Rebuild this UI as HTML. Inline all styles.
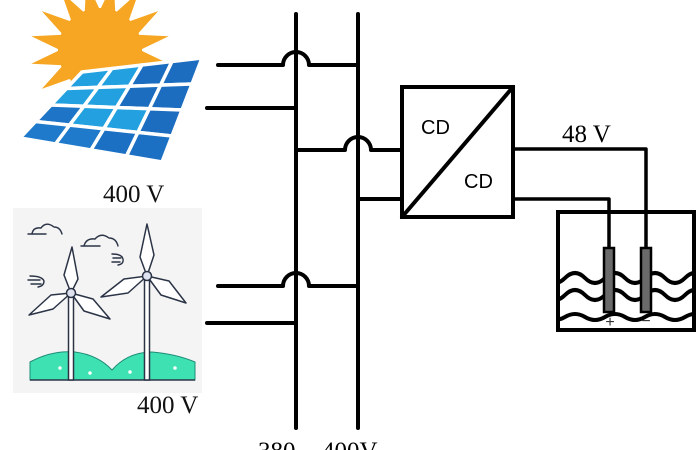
<!DOCTYPE html>
<html><head><meta charset="utf-8"><style>
html,body{margin:0;padding:0;background:#fff;}
body{width:696px;height:450px;overflow:hidden;}
svg{display:block;}
</style></head><body>
<svg width="696" height="450" viewBox="0 0 696 450" xmlns="http://www.w3.org/2000/svg">
<defs>
<clipPath id="tank"><rect x="558" y="212" width="136" height="118"/></clipPath>
</defs>
<!-- Sun -->
<polygon fill="#f6a623" points="140,50 168.7,63.7 137,65.3 158.2,88.9 128.3,78.3 138.9,108.2 115.3,87 113.7,118.7 100,90 86.3,118.7 84.7,87 61.1,108.2 71.7,78.3 41.8,88.9 63,65.3 31.3,63.7 60,50 31.3,36.3 63,34.7 41.8,11.1 71.7,21.7 61.1,-8.2 84.7,13 86.3,-18.7 100,10 113.7,-18.7 115.3,13 138.9,-8.2 128.3,21.7 158.2,11.1 137,34.7 168.7,36.3"/>
<circle cx="100" cy="50" r="42" fill="#f6a623"/>
<!-- Solar panel -->
<g stroke="#fff" stroke-width="3.5" stroke-linejoin="round">
<polygon fill="#22a0e0" points="82,72 112,68.5 97.9,87.4 66.5,88.5"/>
<polygon fill="#22a0e0" points="112,68.5 142,65 129.3,86.3 97.9,87.4"/>
<polygon fill="#1c6cc0" points="142,65 172,61.5 160.6,85.1 129.3,86.3"/>
<polygon fill="#1c6cc0" points="172,61.5 202,58 192,84 160.6,85.1"/>
<polygon fill="#22a0e0" points="66.5,88.5 97.9,87.4 83.8,106.3 51,105"/>
<polygon fill="#22a0e0" points="97.9,87.4 129.3,86.3 116.5,107.5 83.8,106.3"/>
<polygon fill="#1c6cc0" points="129.3,86.3 160.6,85.1 149.3,108.8 116.5,107.5"/>
<polygon fill="#1c6cc0" points="160.6,85.1 192,84 182,110 149.3,108.8"/>
<polygon fill="#1e74c6" points="51,105 83.8,106.3 69.6,125.1 35.5,121.5"/>
<polygon fill="#22a0e0" points="83.8,106.3 116.5,107.5 103.8,128.8 69.6,125.1"/>
<polygon fill="#22a0e0" points="116.5,107.5 149.3,108.8 137.9,132.4 103.8,128.8"/>
<polygon fill="#1c6cc0" points="149.3,108.8 182,110 172,136 137.9,132.4"/>
<polygon fill="#1f7acb" points="35.5,121.5 69.6,125.1 55.5,144 20,138"/>
<polygon fill="#1f7acb" points="69.6,125.1 103.8,128.8 91,150 55.5,144"/>
<polygon fill="#1c70c4" points="103.8,128.8 137.9,132.4 126.5,156 91,150"/>
<polygon fill="#1c70c4" points="137.9,132.4 172,136 162,162 126.5,156"/>
</g>
<text x="103" y="202" font-family="Liberation Serif, serif" font-size="25" fill="#111">400 V</text>

<!-- Wind picture -->
<rect x="13" y="208" width="189" height="185" fill="#f4f4f4"/>
<path d="M30,362 Q52,350 75,352 Q98,355 112,370 Q128,352 152,352 Q176,354 195,362 L195,380 L30,380 Z" fill="#3ee2b2" stroke="#1e8c78" stroke-width="1"/>
<line x1="30" y1="380" x2="195" y2="380" stroke="#2b3446" stroke-width="1.5"/>
<g fill="#fff" stroke="#fff" stroke-width="1.5"><circle cx="60" cy="368" r="1"/><circle cx="90" cy="373" r="1"/><circle cx="130" cy="372" r="1"/><circle cx="175" cy="368" r="1"/></g>
<g fill="none" stroke="#2b3446" stroke-width="1.4" stroke-linecap="round">
<path d="M32,234 Q33,227 41,228 Q46,221 54,227 Q60,227 62,234"/>
<path d="M28,234 H46"/>
<path d="M84,246 Q86,238 95,239 Q101,232 109,238 Q116,238 118,246"/>
<path d="M81,246 H100"/>
<path d="M112,254 Q122,254 123,259 Q124,264 118,265"/>
<path d="M113,258 H121 M112,262 H120"/>
<path d="M30,276 Q42,276 44,281 Q44,286 38,287"/>
<path d="M28,280 H40 M31,284 H41"/>
</g>
<g fill="#fff" stroke="#2b3446" stroke-width="1.5" stroke-linejoin="round">
<rect x="68.5" y="293" width="5" height="87"/>
<rect x="144.5" y="276" width="5" height="104"/>
<polygon points="71,293 64,275 72,247 78,279"/>
<polygon points="71,293 51,295 29,315 53,309"/>
<polygon points="71,293 93,299 110,319 84,311"/>
<polygon points="147,276 140,257 147,224 154,255"/>
<polygon points="147,276 124,279 101,297 128,293"/>
<polygon points="147,276 169,281 186,303 161,295"/>
<circle cx="71" cy="293" r="4.5" fill="#dfe3ef"/>
<circle cx="147" cy="276" r="4.5" fill="#dfe3ef"/>
</g>
<text x="137" y="413" font-family="Liberation Serif, serif" font-size="25" fill="#111">400 V</text>

<!-- Bus lines -->
<g fill="none" stroke="#000" stroke-width="4" stroke-linecap="round" stroke-linejoin="round">
<line x1="296" y1="14" x2="296" y2="428"/>
<line x1="358" y1="14" x2="358" y2="428"/>
<path d="M218,65 H283 A13,13 0 0 1 309,65 H358"/>
<path d="M207,108 H296"/>
<path d="M296,150 H345 A13,13 0 0 1 371,150 H402"/>
<path d="M358,199 H402"/>
<path d="M218,286 H283 A13,13 0 0 1 309,286 H358"/>
<path d="M207,323 H296"/>
<!-- converter -->
<rect x="402" y="87" width="111" height="130" stroke-linecap="butt" stroke-linejoin="miter"/>
<line x1="402" y1="217" x2="513" y2="87"/>
<!-- outputs -->
<path d="M513,149 H646 V248" stroke-width="3.5"/>
<path d="M513,199 H609 V248" stroke-width="3.5"/>
</g>
<text x="421" y="134" font-family="Liberation Sans, sans-serif" font-size="20" fill="#000">CD</text>
<text x="464" y="188" font-family="Liberation Sans, sans-serif" font-size="20" fill="#000">CD</text>
<text x="562" y="142" font-family="Liberation Serif, serif" font-size="25" fill="#000">48 V</text>

<!-- waves -->
<g fill="none" stroke="#000" stroke-width="4" clip-path="url(#tank)">
<path d="M545,278 q10,10 20,0 t20,0 t20,0 t20,0 t20,0 t20,0 t20,0 t20,0"/>
<path d="M545,295 q10,10 20,0 t20,0 t20,0 t20,0 t20,0 t20,0 t20,0 t20,0"/>
<path d="M545,317 q10,6 20,0 t20,0 t20,0 t20,0 t20,0 t20,0 t20,0 t20,0"/>
</g>
<!-- tank -->
<rect x="558" y="212" width="136" height="118" fill="none" stroke="#000" stroke-width="4"/>
<!-- electrodes -->
<rect x="604" y="248" width="10" height="64" fill="#6a6a6a" stroke="#000" stroke-width="2.5"/>
<rect x="641" y="248" width="10" height="64" fill="#6a6a6a" stroke="#000" stroke-width="2.5"/>
<text x="610" y="327" text-anchor="middle" font-family="Liberation Sans, sans-serif" font-size="16" fill="#333">+</text>
<text x="646" y="326" text-anchor="middle" font-family="Liberation Sans, sans-serif" font-size="16" fill="#333">−</text>

<text x="258" y="459" font-family="Liberation Serif, serif" font-size="25" fill="#000">380</text>
<text x="322" y="459" font-family="Liberation Serif, serif" font-size="25" fill="#000">400V</text>
</svg>
</body></html>
